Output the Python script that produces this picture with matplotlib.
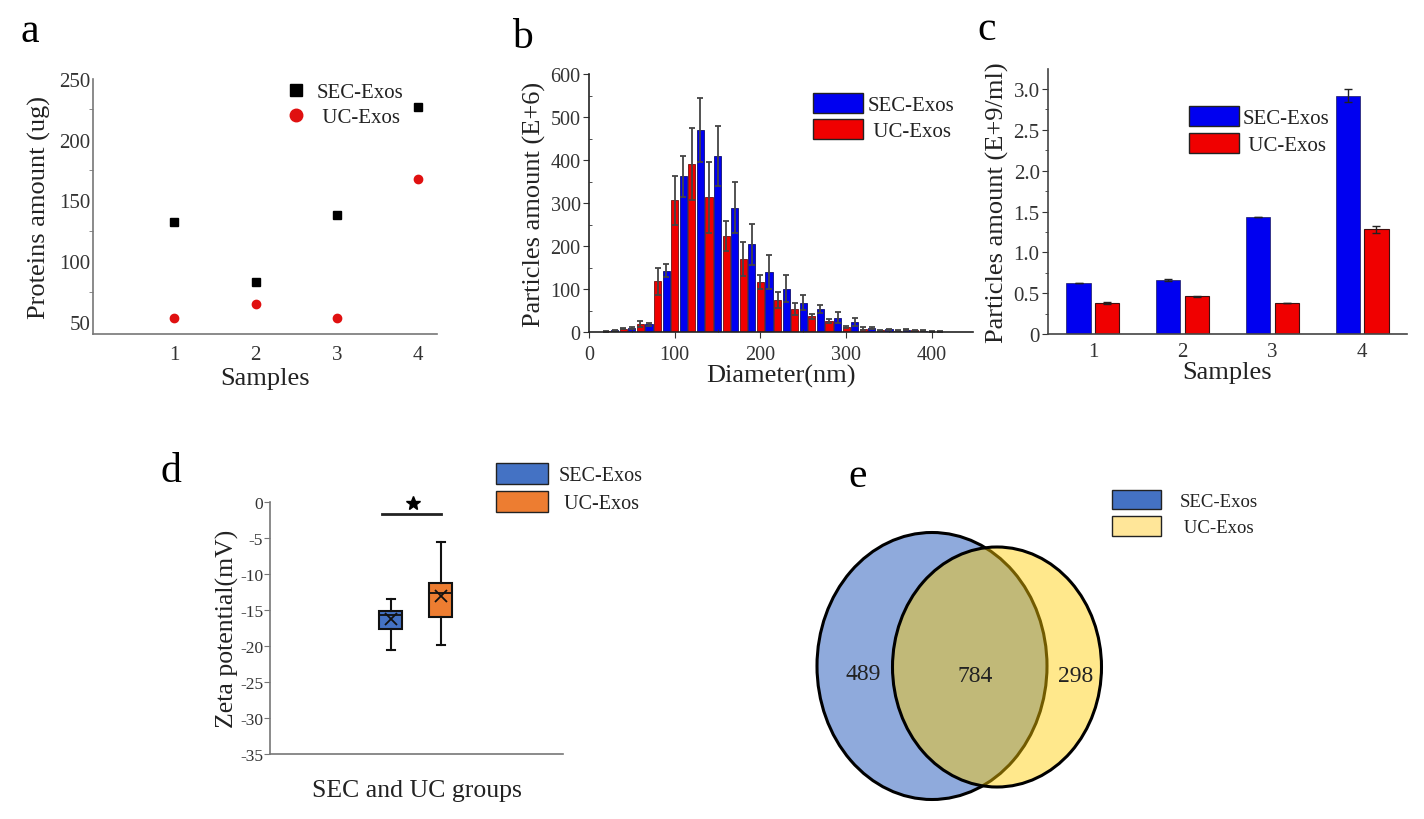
import matplotlib
matplotlib.use("Agg")
import matplotlib.pyplot as plt
from matplotlib.patches import Patch, Ellipse
from matplotlib.lines import Line2D
from matplotlib.ticker import MultipleLocator

plt.rcParams["font.family"] = ["Liberation Serif", "DejaVu Serif"]
plt.rcParams["text.color"] = "#222222"
plt.rcParams["axes.labelcolor"] = "#222222"
plt.rcParams["xtick.color"] = "#333333"
plt.rcParams["ytick.color"] = "#333333"

# --- data ---
samples = [1, 2, 3, 4]
protein_sec = [132, 83, 138, 227]
protein_uc = [53, 65, 53, 168]

# NTA size distribution (E+6 particles), UC on even 20 nm bins, SEC on odd
diam_uc = [20, 40, 60, 80, 100, 120, 140, 160, 180, 200, 220, 240, 260, 280, 300, 320, 340, 360, 380, 400]
size_uc = [2, 8, 18, 118, 306, 391, 313, 224, 170, 116, 74, 54, 37, 26, 12, 8, 4, 3, 4, 1]
size_uc_err = [1, 2, 7, 31, 56, 83, 83, 35, 40, 16, 19, 14, 6, 5, 3, 4, 1, 1, 1, 0.5]
diam_sec = [30, 50, 70, 90, 110, 130, 150, 170, 190, 210, 230, 250, 270, 290, 310, 330, 350, 370, 390, 410]
size_sec = [4, 10, 18, 143, 362, 470, 409, 289, 204, 139, 101, 68, 53, 33, 23, 9, 6, 5, 3, 1]
size_sec_err = [1, 2, 4, 14, 48, 74, 69, 59, 48, 39, 32, 17, 9, 13, 9, 3, 2, 1, 1, 0.5]

conc_sec = [0.63, 0.66, 1.43, 2.92]
conc_sec_err = [0.0, 0.01, 0.0, 0.08]
conc_uc = [0.38, 0.46, 0.38, 1.28]
conc_uc_err = [0.01, 0.005, 0.005, 0.04]

# zeta potential box stats (mV)
zeta_sec = dict(whislo=-20.6, q1=-17.7, med=-15.7, q3=-15.1, whishi=-13.5, mean=-16.3)
zeta_uc = dict(whislo=-19.9, q1=-16.0, med=-12.6, q3=-11.3, whishi=-5.6, mean=-13.1)

venn_sec_only = 489
venn_both = 784
venn_uc_only = 298

BLUE = "#0000f0"
RED = "#f00000"

fig = plt.figure(figsize=(14.24, 8.2), dpi=100)
W, H = 1424, 820


def px_axes(left, top, right, bottom):
    return fig.add_axes([left / W, 1 - bottom / H, (right - left) / W, (bottom - top) / H])


def style(ax, spine_color):
    for s in ["top", "right"]:
        ax.spines[s].set_visible(False)
    for s in ["left", "bottom"]:
        ax.spines[s].set_color(spine_color)
        ax.spines[s].set_linewidth(1.2)


# --- a: protein amount ---
ax_a = px_axes(93, 80, 437, 335)
style(ax_a, "#777777")
ax_a.plot(samples, protein_sec, "s", color="black", markersize=5.5, linestyle="none")
ax_a.plot(samples, protein_uc, "o", color="#e01010", markersize=6, linestyle="none")
ax_a.set_xlim(0, 4.23)
ax_a.set_ylim(40, 250)
ax_a.set_xticks(samples)
ax_a.set_yticks([50, 100, 150, 200, 250])
ax_a.yaxis.set_minor_locator(MultipleLocator(25))
ax_a.tick_params(axis="x", length=0, labelsize=15, pad=8)
ax_a.tick_params(axis="y", which="major", length=0, labelsize=15, pad=2)
ax_a.tick_params(axis="y", which="minor", length=3, direction="out", color="#777777")
ax_a.set_xlabel("Samples", fontsize=19, labelpad=2)
ax_a.set_ylabel("Proteins amount (ug)", fontsize=19, labelpad=6)
ax_a.legend(handles=[Line2D([], [], marker="s", color="black", linestyle="none", markersize=8, label="SEC-Exos"),
                     Line2D([], [], marker="o", color="#e01010", linestyle="none", markersize=9, label=" UC-Exos")],
            loc="upper left", bbox_to_anchor=(0.5, 1.06), frameon=False, fontsize=15,
            handletextpad=0.4, labelspacing=0.25, handlelength=1.2)

# --- b: size distribution ---
ax_b = px_axes(589, 75, 973, 333)
style(ax_b, "#222222")
err_kw = dict(ecolor="#444444", elinewidth=1.3, capsize=2.5, capthick=1.3)
ax_b.bar(diam_uc, size_uc, width=8.4, color=RED, edgecolor="#701010", linewidth=0.6,
         yerr=size_uc_err, error_kw=err_kw)
ax_b.bar(diam_sec, size_sec, width=8.4, color=BLUE, edgecolor="#101070", linewidth=0.6,
         yerr=size_sec_err, error_kw=err_kw)
ax_b.set_xlim(0, 448)
ax_b.set_ylim(0, 600)
ax_b.set_xticks([0, 100, 200, 300, 400])
ax_b.set_yticks([0, 100, 200, 300, 400, 500, 600])
ax_b.xaxis.set_minor_locator(MultipleLocator(50))
ax_b.yaxis.set_minor_locator(MultipleLocator(50))
ax_b.tick_params(which="major", length=4, direction="out", labelsize=14.5, pad=2)
ax_b.tick_params(axis="x", which="major", pad=5)
ax_b.tick_params(which="minor", length=2.5, direction="in")
ax_b.set_xlabel("Diameter(nm)", fontsize=19, labelpad=0)
ax_b.set_ylabel("Particles amount (E+6)", fontsize=19, labelpad=3)
ax_b.legend(handles=[Patch(facecolor=BLUE, edgecolor="#222222", label="SEC-Exos"),
                     Patch(facecolor=RED, edgecolor="#222222", label=" UC-Exos")],
            loc="upper right", bbox_to_anchor=(1.0, 1.0), frameon=False, fontsize=15,
            handlelength=2.4, handleheight=1.1, handletextpad=0.2, labelspacing=0.2)

# --- c: particle concentration ---
ax_c = px_axes(1048, 70, 1407, 335)
style(ax_c, "#444444")
offs = 0.16
bw = 0.27
ax_c.bar([s - offs for s in samples], conc_sec, width=bw, color=BLUE, edgecolor="#1a1a60", linewidth=0.5,
         yerr=conc_sec_err, error_kw=dict(ecolor="#222222", elinewidth=1, capsize=3, capthick=1))
ax_c.bar([s + offs for s in samples], conc_uc, width=bw, color=RED, edgecolor="#401010", linewidth=0.8,
         yerr=conc_uc_err, error_kw=dict(ecolor="#222222", elinewidth=1, capsize=3, capthick=1))
ax_c.set_xlim(0.5, 4.5)
ax_c.set_ylim(0, 3.245)
ax_c.set_xticks(samples)
ax_c.set_yticks([0, 0.5, 1.0, 1.5, 2.0, 2.5, 3.0])
ax_c.set_yticklabels(["0", "0.5", "1.0", "1.5", "2.0", "2.5", "3.0"])
ax_c.yaxis.set_minor_locator(MultipleLocator(0.25))
ax_c.tick_params(axis="x", length=0, labelsize=15, pad=6)
ax_c.tick_params(axis="y", which="major", length=4, labelsize=15, pad=2)
ax_c.tick_params(axis="y", which="minor", length=2.5)
ax_c.set_xlabel("Samples", fontsize=19, labelpad=0)
ax_c.set_ylabel("Particles amount (E+9/ml)", fontsize=19, labelpad=3)
ax_c.legend(handles=[Patch(facecolor=BLUE, edgecolor="#222222", label="SEC-Exos"),
                     Patch(facecolor=RED, edgecolor="#222222", label=" UC-Exos")],
            loc="upper left", bbox_to_anchor=(0.34, 0.93), frameon=False, fontsize=15,
            handlelength=2.4, handleheight=1.1, handletextpad=0.2, labelspacing=0.2)

# --- d: zeta potential ---
ax_d = px_axes(270, 503, 563, 755)
style(ax_d, "#777777")
box_cols = ["#4472c4", "#ed7d31"]
bp = ax_d.bxp([zeta_sec, zeta_uc], positions=[1, 2], widths=0.46, showmeans=True,
              patch_artist=True, showfliers=False,
              boxprops=dict(edgecolor="#111111", linewidth=1.5),
              medianprops=dict(color="#111111", linewidth=1.3),
              whiskerprops=dict(color="#111111", linewidth=1.5),
              capprops=dict(color="#111111", linewidth=1.5),
              meanprops=dict(marker="x", markeredgecolor="#111111", markersize=8, markeredgewidth=1.3))
for box, col in zip(bp["boxes"], box_cols):
    box.set_facecolor(col)
for cap in bp["caps"]:
    xd = cap.get_xdata()
    mid = (xd[0] + xd[1]) / 2
    cap.set_xdata([mid - 0.08, mid + 0.08])
ax_d.set_xlim(-1.42, 4.44)
ax_d.set_ylim(-35, 0)
ax_d.set_yticks([0, -5, -10, -15, -20, -25, -30, -35])
ax_d.set_yticklabels(["0", "-5", "-10", "-15", "-20", "-25", "-30", "-35"])
ax_d.set_xticks([])
ax_d.tick_params(axis="y", length=4, labelsize=12.5, pad=1, color="#777777")
ax_d.plot([0.82, 2.0], [-1.6, -1.6], color="#222222", linewidth=2, clip_on=False)
ax_d.plot([1.45], [-0.1], marker="*", color="black", markersize=10, clip_on=False)
ax_d.set_xlabel("SEC and UC groups", fontsize=18.5, labelpad=18)
ax_d.set_ylabel("Zeta potential(mV)", fontsize=18.5, labelpad=1)
fig.legend(handles=[Patch(facecolor=box_cols[0], edgecolor="#222222", label="SEC-Exos"),
                    Patch(facecolor=box_cols[1], edgecolor="#222222", label=" UC-Exos")],
           loc="upper left", bbox_to_anchor=(478 / W, 1 - 446 / H), frameon=False, fontsize=14.5,
           handlelength=2.6, handleheight=1.2, handletextpad=0.5, labelspacing=0.3)

# --- e: venn ---
ax_e = px_axes(800, 520, 1130, 815)
ax_e.set_xlim(800, 1130)
ax_e.set_ylim(815, 520)
ax_e.axis("off")
ax_e.add_patch(Ellipse((932, 667), 230, 267, facecolor="#8faadc", edgecolor="black", linewidth=2.2))
ax_e.add_patch(Ellipse((997, 668), 209, 240, facecolor=(1.0, 0.80, 0.0, 0.45), edgecolor="black", linewidth=2.2))
ax_e.text(863, 675, str(venn_sec_only), fontsize=17, ha="center", va="center")
ax_e.text(975, 677, str(venn_both), fontsize=17, ha="center", va="center")
ax_e.text(1076, 677, str(venn_uc_only), fontsize=17, ha="center", va="center")
fig.legend(handles=[Patch(facecolor="#4472c4", edgecolor="#222222", label="SEC-Exos"),
                    Patch(facecolor="#ffe699", edgecolor="#222222", label=" UC-Exos")],
           loc="upper left", bbox_to_anchor=(1095 / W, 1 - 474 / H), frameon=False, fontsize=13.5,
           handlelength=2.6, handleheight=1.2, handletextpad=1.0, labelspacing=0.35)

# panel letters
for letter, x, y in [("a", 20, 42), ("b", 512, 48), ("c", 977, 40), ("d", 160, 482), ("e", 848, 487)]:
    fig.text(x / W, 1 - y / H, letter, fontsize=30, ha="left", va="baseline", color="black")

fig.savefig("out.png", dpi=100)
